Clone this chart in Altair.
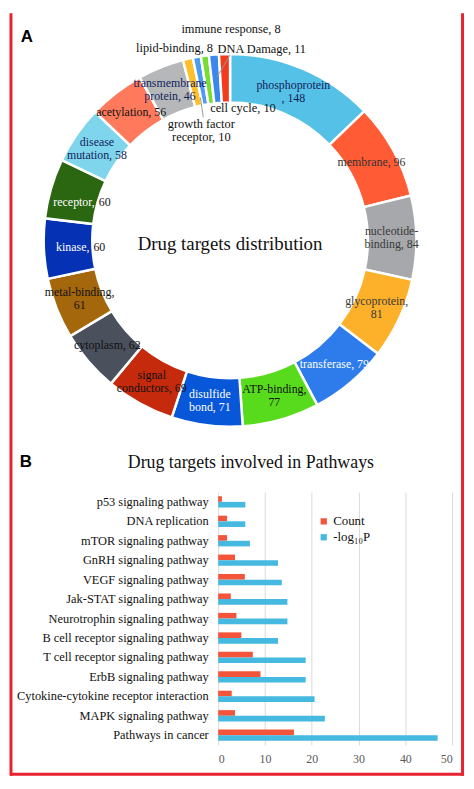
import altair as alt
import pandas as pd

# ---------------- Panel A data ----------------
categories = ["phosphoprotein", "membrane", "nucleotide-binding", "glycoprotein",
              "transferase", "ATP-binding", "disulfide bond", "signal conductors",
              "cytoplasm", "metal-binding", "kinase", "receptor", "disease mutation",
              "acetylation", "transmembrane protein", "growth factor receptor",
              "lipid-binding", "immune response", "cell cycle", "DNA Damage"]
counts = [148, 96, 84, 81, 79, 77, 71, 69, 62, 61, 60, 60, 58, 56, 46, 10, 8, 8, 10, 11]
slice_colors = ["#56C1E6", "#FF5B35", "#A6A8AB", "#FDB02A", "#2E7CEB", "#58DB1C",
                "#0757D8", "#C42A0B", "#4A505C", "#A4670C", "#0531B5", "#2B6611",
                "#7FD6EC", "#FF7A5C", "#B5B7B9", "#FDC02B", "#4B9CF0", "#77DD33",
                "#3B88EC", "#F23B1C"]
label_colors = ["#14235E", "#333333", "#3A3A3A", "#3A3A3A", "#FFFFFF", "#111111",
                "#FFFFFF", "#111111", "#111111", "#111111", "#FFFFFF", "#FFFFFF",
                "#14235E", "#111111", "#14235E", "#111111", "#111111", "#111111",
                "#111111", "#111111"]
label_formats = ["{n}\n, {v}", "{n}, {v}", "nucleotide-\nbinding, {v}", "{n},\n{v}",
                 "{n}, {v}", "{n},\n{v}", "disulfide\nbond, {v}", "signal\nconductors, {v}",
                 "{n}, {v}", "{n},\n{v}", "{n}, {v}", "{n}, {v}", "disease\nmutation, {v}",
                 "{n}, {v}", "transmembrane\nprotein, {v}", "", "", "", "", ""]
inner_labels = ["kinase", "receptor"]

# ---------------- Panel B data ----------------
pathways = ["p53 signaling pathway", "DNA replication", "mTOR signaling pathway",
            "GnRH signaling pathway", "VEGF signaling pathway", "Jak-STAT signaling pathway",
            "Neurotrophin signaling pathway", "B cell receptor signaling pathway",
            "T cell receptor signaling pathway", "ErbB signaling pathway",
            "Cytokine-cytokine receptor interaction", "MAPK signaling pathway",
            "Pathways in cancer"]
count_vals = [0.8, 1.9, 1.9, 3.6, 5.7, 2.7, 3.9, 4.95, 7.4, 9.05, 2.9, 3.6, 16.2]
logp_vals = [5.8, 5.8, 6.8, 12.8, 13.6, 14.8, 14.8, 12.8, 18.7, 18.7, 20.6, 22.8, 46.9]
series_names = ["Count", "-log\u2081\u2080P"]
series_colors = ["#F4553A", "#45B9E0"]

SERIF = "Liberation Serif"
SANS = "Liberation Sans"

# geometry (relative to the bar plot origin)
PW, PH = 236, 255
CX, CY = 12, -254
R_OUT, R_IN = 188, 139

one = pd.DataFrame({"k": [0]})

labels_txt = [f.format(n=n, v=v) if f else "" for f, n, v in zip(label_formats, categories, counts)]
donut_df = pd.DataFrame({
    "category": categories,
    "count": counts,
    "idx": list(range(len(categories))),
    "label": labels_txt,
    "grp": ["inner" if c in inner_labels else ("multi" if "\n" in t else "single")
            for c, t in zip(categories, labels_txt)],
})

arcs = alt.Chart(donut_df).mark_arc(
    radius=R_OUT, radius2=R_IN, stroke="white", strokeWidth=2.5
).encode(
    theta=alt.Theta("count:Q", stack=True),
    order=alt.Order("idx:Q"),
    fill=alt.Fill("category:N", scale=alt.Scale(domain=categories, range=slice_colors), legend=None),
    x=alt.value(CX), y=alt.value(CY),
)


def label_layer(expr, radius, dy=0, dx=0, align="center", fixed_color=None):
    enc = dict(
        theta=alt.Theta("count:Q", stack=True),
        order=alt.Order("idx:Q"),
        text="t:N",
        x=alt.value(CX), y=alt.value(CY),
    )
    mk = dict(radius=radius, font=SERIF, fontSize=12, lineBreak="\n", align=align,
              baseline="middle", lineHeight=13, dy=dy, dx=dx)
    if fixed_color:
        mk["color"] = fixed_color
    else:
        enc["fill"] = alt.Fill("category:N", scale=alt.Scale(domain=categories, range=label_colors),
                               legend=None)
    return alt.Chart(donut_df).transform_calculate(t=expr).mark_text(**mk).encode(**enc)


slice_labels = [
    label_layer("datum.grp == 'single' ? datum.label : ''", 163),
    label_layer("datum.grp == 'multi' ? datum.label : ''", 163, dy=-7),
    label_layer("datum.grp == 'inner' ? datum.category + ',' : ''", 140, dx=-2, align="right"),
    label_layer("datum.grp == 'inner' ? '' + datum.count : ''", 140, dx=2, align="left",
                fixed_color="#111111"),
]


def note(txt, x, y, size=12, font=SERIF, weight="normal", color="#111111"):
    return alt.Chart(one).mark_text(
        font=font, fontSize=size, fontWeight=weight, color=color,
        lineBreak="\n", lineHeight=13, align="center", baseline="middle"
    ).encode(x=alt.value(x), y=alt.value(y), text=alt.value(txt))


def call(i):
    return f"{categories[i]}, {counts[i]}"


callouts = [
    note(call(17), 13, -467, size=12.5),
    note(call(16), -44, -448, size=12.5),
    note(call(19), 44, -447, size=12.5),
    note(call(18), 25, -387, size=12.5),
    note("growth factor\nreceptor, " + str(counts[15]), -17, -371, size=12.5),
]


def seg(x1, y1, x2, y2, color="#9A9A9A", w=1):
    return alt.Chart(one).mark_rule(color=color, strokeWidth=w).encode(
        x=alt.value(x1), y=alt.value(y1), x2=alt.value(x2), y2=alt.value(y2))


leaders = [seg(-18, -398, -15, -378), seg(-1, -419, 12, -441)]

center_title = note("Drug targets distribution", CX, -250, size=19)
title_b = note("Drug targets involved in Pathways", 33, -29, size=18)
lab_a = note("A", -193, -459, size=17, font=SANS, weight="bold", color="#000000")
lab_b = note("B", -194, -30, size=17, font=SANS, weight="bold", color="#000000")

border = [
    seg(-209, -483, -209, 286, color="#E8232F", w=3),
    seg(246.5, -483, 246.5, 286, color="#E8232F", w=3),
    seg(-210, 284.5, 248, 284.5, color="#E8232F", w=3),
]

bars_df = pd.DataFrame({
    "pathway": pathways * 2,
    "series": [series_names[0]] * len(pathways) + [series_names[1]] * len(pathways),
    "value": count_vals + logp_vals,
})

bars = alt.Chart(bars_df).mark_bar().encode(
    x=alt.X("value:Q", scale=alt.Scale(domain=[0, 50], nice=False),
            axis=alt.Axis(values=[0, 10, 20, 30, 40, 50], title=None, domain=False,
                          ticks=False, labelFont=SERIF, labelFontSize=12,
                          labelColor="#595959", gridColor="#D9D9D9", labelPadding=9)),
    y=alt.Y("pathway:N", sort=pathways,
            scale=alt.Scale(paddingInner=0.42, paddingOuter=0.21),
            axis=alt.Axis(title=None, domain=False, ticks=False, labelFont=SERIF,
                          labelFontSize=12.5, labelColor="#111111", labelPadding=10,
                          labelLimit=0)),
    yOffset=alt.YOffset("series:N", sort=series_names,
                        scale=alt.Scale(paddingInner=0, paddingOuter=0)),
    color=alt.Color("series:N", sort=series_names,
                    scale=alt.Scale(domain=series_names, range=series_colors),
                    legend=alt.Legend(title=None, orient="none", legendX=100, legendY=23,
                                      labelFont=SERIF, labelFontSize=13,
                                      labelColor="#111111", symbolType="square",
                                      symbolSize=40, rowPadding=2, labelOffset=3)),
)

chart = alt.layer(
    bars, arcs, *slice_labels, *callouts, *leaders, center_title, title_b, lab_a, lab_b,
    *border
).resolve_scale(fill="independent").properties(
    width=PW, height=PH, padding=0
).configure_view(stroke=None)

chart.save("out.html", embed_options={"renderer": "svg", "actions": False})
